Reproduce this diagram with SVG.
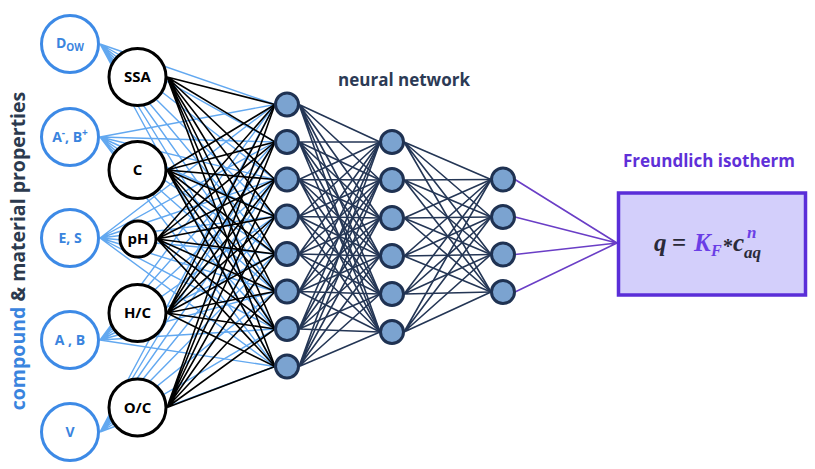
<svg xmlns="http://www.w3.org/2000/svg" width="815" height="469" viewBox="0 0 815 469">
<style>
.bl{stroke:#62a8f0;stroke-width:1.4;fill:none}
.bk{stroke:#000;stroke-width:1.6;fill:none}
.nv{stroke:#243655;stroke-width:1.6;fill:none}
.pu{stroke:#6a3ec6;stroke-width:1.6;fill:none}
.inb{fill:#fff;stroke:#3d8ae6;stroke-width:3}
.ink{fill:#fff;stroke:#000;stroke-width:3}
.hn{fill:#7ba3d0;stroke:#1f3252;stroke-width:3}
.tb{font-family:"Open Sans","Liberation Sans",sans-serif;font-weight:bold;fill:#3a84de;font-size:14px;text-anchor:middle}
.tk{font-family:"Open Sans","Liberation Sans",sans-serif;font-weight:bold;fill:#000;font-size:15px;text-anchor:middle}
.eq{font-family:"Liberation Serif","DejaVu Serif",serif;font-weight:bold;font-style:italic;fill:#2a2a38;font-size:25px}
.pp{fill:#6a3ee6}
</style>
<rect width="815" height="469" fill="#fff"/>
<g id="connectors">
<g id="blue-lines">
<path class="bl" d="M100 44L275 104.5M100 44L275 142M100 44L275 179.5M100 44L275 216.5M100 44L275 254M100 44L275 291.5M100 44L275 329M100 44L275 366.5"/>
<path class="bl" d="M100 137L275 104.5M100 137L275 142M100 137L275 179.5M100 137L275 216.5M100 137L275 254M100 137L275 291.5M100 137L275 329M100 137L275 366.5"/>
<path class="bl" d="M100 238L275 104.5M100 238L275 142M100 238L275 179.5M100 238L275 216.5M100 238L275 254M100 238L275 291.5M100 238L275 329M100 238L275 366.5"/>
<path class="bl" d="M100 340L275 104.5M100 340L275 142M100 340L275 179.5M100 340L275 216.5M100 340L275 254M100 340L275 291.5M100 340L275 329M100 340L275 366.5"/>
<path class="bl" d="M100 432L275 104.5M100 432L275 142M100 432L275 179.5M100 432L275 216.5M100 432L275 254M100 432L275 291.5M100 432L275 329M100 432L275 366.5"/>
</g>
<g id="black-lines">
<path class="bk" d="M167 77L275 104.5M167 77L275 142M167 77L275 179.5M167 77L275 216.5M167 77L275 254M167 77L275 291.5M167 77L275 329M167 77L275 366.5"/>
<path class="bk" d="M167 170L275 104.5M167 170L275 142M167 170L275 179.5M167 170L275 216.5M167 170L275 254M167 170L275 291.5M167 170L275 329M167 170L275 366.5"/>
<path class="bk" d="M157 239L275 104.5M157 239L275 142M157 239L275 179.5M157 239L275 216.5M157 239L275 254M157 239L275 291.5M157 239L275 329M157 239L275 366.5"/>
<path class="bk" d="M167 313L275 104.5M167 313L275 142M167 313L275 179.5M167 313L275 216.5M167 313L275 254M167 313L275 291.5M167 313L275 329M167 313L275 366.5"/>
<path class="bk" d="M167 407.5L275 104.5M167 407.5L275 142M167 407.5L275 179.5M167 407.5L275 216.5M167 407.5L275 254M167 407.5L275 291.5M167 407.5L275 329M167 407.5L275 366.5"/>
</g>
<g id="l1-l2">
<path class="nv" d="M299 104.5L380 142M299 104.5L380 180M299 104.5L380 218M299 104.5L380 256M299 104.5L380 294M299 104.5L380 332"/>
<path class="nv" d="M299 142L380 142M299 142L380 180M299 142L380 218M299 142L380 256M299 142L380 294M299 142L380 332"/>
<path class="nv" d="M299 179.5L380 142M299 179.5L380 180M299 179.5L380 218M299 179.5L380 256M299 179.5L380 294M299 179.5L380 332"/>
<path class="nv" d="M299 216.5L380 142M299 216.5L380 180M299 216.5L380 218M299 216.5L380 256M299 216.5L380 294M299 216.5L380 332"/>
<path class="nv" d="M299 254L380 142M299 254L380 180M299 254L380 218M299 254L380 256M299 254L380 294M299 254L380 332"/>
<path class="nv" d="M299 291.5L380 142M299 291.5L380 180M299 291.5L380 218M299 291.5L380 256M299 291.5L380 294M299 291.5L380 332"/>
<path class="nv" d="M299 329L380 142M299 329L380 180M299 329L380 218M299 329L380 256M299 329L380 294M299 329L380 332"/>
<path class="nv" d="M299 366.5L380 142M299 366.5L380 180M299 366.5L380 218M299 366.5L380 256M299 366.5L380 294M299 366.5L380 332"/>
</g>
<g id="l2-l3">
<path class="nv" d="M404 142L491 179.5M404 142L491 217M404 142L491 254.5M404 142L491 292"/>
<path class="nv" d="M404 180L491 179.5M404 180L491 217M404 180L491 254.5M404 180L491 292"/>
<path class="nv" d="M404 218L491 179.5M404 218L491 217M404 218L491 254.5M404 218L491 292"/>
<path class="nv" d="M404 256L491 179.5M404 256L491 217M404 256L491 254.5M404 256L491 292"/>
<path class="nv" d="M404 294L491 179.5M404 294L491 217M404 294L491 254.5M404 294L491 292"/>
<path class="nv" d="M404 332L491 179.5M404 332L491 217M404 332L491 254.5M404 332L491 292"/>
</g>
<g id="l3-out">
<path class="pu" d="M515 179.5L617 243M515 217L617 243M515 254.5L617 243M515 292L617 243"/>
</g>
</g>
<g id="in-dow"><circle class="inb" cx="70" cy="44" r="28.5"/><text class="tb" x="70" y="48">D<tspan font-size="10" dy="3">OW</tspan></text></g>
<g id="in-ab-ion"><circle class="inb" cx="70" cy="137" r="28.5"/><text class="tb" x="70" y="142">A<tspan font-size="10" dy="-6">-</tspan><tspan dy="6">, B</tspan><tspan font-size="10" dy="-6">+</tspan></text></g>
<g id="in-es"><circle class="inb" cx="70" cy="238" r="28.5"/><text class="tb" x="70" y="243">E, S</text></g>
<g id="in-ab"><circle class="inb" cx="70" cy="340" r="28.5"/><text class="tb" x="70" y="345">A , B</text></g>
<g id="in-v"><circle class="inb" cx="70" cy="432" r="28.5"/><text class="tb" x="70" y="437">V</text></g>
<g id="ssa"><circle class="ink" cx="137.5" cy="77" r="28.5"/><text class="tk" x="137.5" y="82">SSA</text></g>
<g id="c"><circle class="ink" cx="137.5" cy="170" r="28.5"/><text class="tk" x="137.5" y="175">C</text></g>
<g id="ph"><circle class="ink" cx="138" cy="239" r="18"/><text class="tk" x="138" y="244">pH</text></g>
<g id="hc"><circle class="ink" cx="137.5" cy="313" r="28.5"/><text class="tk" x="137.5" y="318">H/C</text></g>
<g id="oc"><circle class="ink" cx="137.5" cy="407.5" r="28.5"/><text class="tk" x="137.5" y="412.5">O/C</text></g>
<g id="h1">
<circle class="hn" cx="287" cy="104.5" r="11.5"/><circle class="hn" cx="287" cy="142" r="11.5"/><circle class="hn" cx="287" cy="179.5" r="11.5"/><circle class="hn" cx="287" cy="216.5" r="11.5"/><circle class="hn" cx="287" cy="254" r="11.5"/><circle class="hn" cx="287" cy="291.5" r="11.5"/><circle class="hn" cx="287" cy="329" r="11.5"/><circle class="hn" cx="287" cy="366.5" r="11.5"/>
</g>
<g id="h2">
<circle class="hn" cx="392" cy="142" r="11.5"/><circle class="hn" cx="392" cy="180" r="11.5"/><circle class="hn" cx="392" cy="218" r="11.5"/><circle class="hn" cx="392" cy="256" r="11.5"/><circle class="hn" cx="392" cy="294" r="11.5"/><circle class="hn" cx="392" cy="332" r="11.5"/>
</g>
<g id="h3">
<circle class="hn" cx="503" cy="179.5" r="11.5"/><circle class="hn" cx="503" cy="217" r="11.5"/><circle class="hn" cx="503" cy="254.5" r="11.5"/><circle class="hn" cx="503" cy="292" r="11.5"/>
</g>
<g id="output">
<rect x="618.5" y="193" width="187" height="102" fill="#d3cffb" stroke="#5a2ed8" stroke-width="3.5"/>
<text class="eq" x="654" y="251">q<tspan x="672" font-style="normal">=</tspan><tspan class="pp" x="694">K</tspan><tspan class="pp" x="711" y="256" font-size="16">F</tspan><tspan x="723" y="253" font-style="normal" font-size="20">*</tspan><tspan x="733" y="251">c</tspan><tspan class="pp" x="747" y="238" font-size="17">n</tspan><tspan x="744" y="258" font-size="17">aq</tspan></text>
</g>
<text x="709" y="167" font-family="Open Sans,Liberation Sans,sans-serif" font-weight="bold" font-size="17" fill="#5f30d8" text-anchor="middle">Freundlich isotherm</text>
<text x="404" y="86" font-family="Open Sans,Liberation Sans,sans-serif" font-weight="bold" font-size="17" fill="#2c3a55" text-anchor="middle">neural network</text>
<text transform="translate(25 251) rotate(-90)" font-family="Open Sans,Liberation Sans,sans-serif" font-weight="bold" font-size="19.5" fill="#2c3a4e" text-anchor="middle"><tspan fill="#3a84de">compound</tspan> &amp; material properties</text>
</svg>
